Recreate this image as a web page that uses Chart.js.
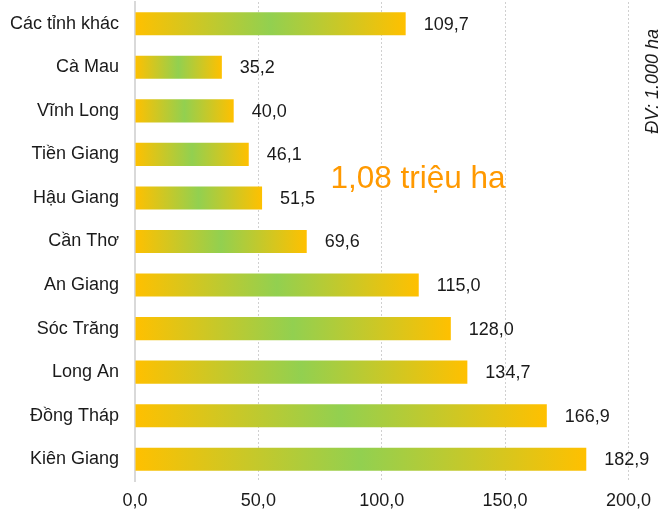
<!DOCTYPE html>
<html>
<head>
<meta charset="utf-8">
<script src="https://cdn.jsdelivr.net/npm/chart.js@4/dist/chart.umd.min.js"></script>
<style>
html,body{margin:0;padding:0;background:#fff;}
#wrap{width:660px;height:512px;position:relative;}
</style>
</head>
<body>
<div id="wrap"><canvas id="c" width="660" height="512"></canvas></div>
<script>
const categories = ["Các tỉnh khác","Cà Mau","Vĩnh Long","Tiền Giang","Hậu Giang","Cần Thơ","An Giang","Sóc Trăng","Long An","Đồng Tháp","Kiên Giang"];
const values = [109.7,35.2,40.0,46.1,51.5,69.6,115.0,128.0,134.7,166.9,182.9];
const xTicks = [0,50,100,150,200];
const totalNote = "1,08 triệu ha";
const unitNote = "ĐV: 1.000 ha";

const FONT = "'Liberation Sans', Arial, sans-serif";
const fmt = v => v.toFixed(1).replace('.', ',');

const barFill = (ctx) => {
  const chart = ctx.chart;
  if (!chart.chartArea || ctx.dataIndex === undefined) return '#FFC000';
  const x0 = chart.scales.x.getPixelForValue(0);
  const x1 = chart.scales.x.getPixelForValue(values[ctx.dataIndex]);
  const g = chart.ctx.createLinearGradient(x0, 0, x1, 0);
  g.addColorStop(0, '#FFC000');
  g.addColorStop(0.5, '#92D050');
  g.addColorStop(1, '#FFC000');
  return g;
};

const extras = {
  id: 'extras',
  afterDatasetsDraw(chart) {
    const c = chart.ctx;
    const meta = chart.getDatasetMeta(0);
    c.save();
    c.font = "18px " + FONT;
    c.fillStyle = '#1a1a1a';
    c.textBaseline = 'middle';
    c.textAlign = 'left';
    meta.data.forEach((bar, i) => {
      c.fillText(fmt(values[i]), bar.x + 18, bar.y + 1);
    });
    const y3 = chart.scales.y.getPixelForValue(3);
    const y4 = chart.scales.y.getPixelForValue(4);
    c.font = "31.5px " + FONT;
    c.fillStyle = '#FF9900';
    c.fillText(totalNote, chart.scales.x.getPixelForValue(80) - 2, (y3 + y4) / 2 + 3);
    c.translate(658, chart.scales.y.getPixelForValue(1) + 14);
    c.rotate(-Math.PI / 2);
    c.font = "italic 18px " + FONT;
    c.fillStyle = '#1a1a1a';
    c.textAlign = 'center';
    c.textBaseline = 'alphabetic';
    c.fillText(unitNote, 0, 0);
    c.restore();
  }
};

new Chart(document.getElementById('c'), {
  type: 'bar',
  data: {
    labels: categories,
    datasets: [{
      data: values,
      backgroundColor: barFill,
      borderWidth: 0,
      barPercentage: 0.53,
      categoryPercentage: 1.0
    }]
  },
  options: {
    indexAxis: 'y',
    responsive: false,
    animation: false,
    devicePixelRatio: 1,
    layout: { padding: { top: 2, right: 30, left: 0, bottom: 0 } },
    plugins: { legend: { display: false }, tooltip: { enabled: false } },
    scales: {
      x: {
        min: 0, max: 200,
        afterBuildTicks: s => { s.ticks = xTicks.map(v => ({ value: v })); },
        afterFit: s => { s.height = 31; },
        ticks: {
          callback: v => fmt(v),
          font: { family: FONT, size: 18 },
          color: '#1a1a1a',
          padding: 9,
          maxRotation: 0
        },
        grid: { color: '#d0d0d0', lineWidth: 1, drawTicks: false },
        border: { display: false, dash: [2, 2] }
      },
      y: {
        afterFit: s => { s.width = 135; s.paddingTop = 0; s.paddingBottom = 0; },
        ticks: {
          font: { family: FONT, size: 18 },
          color: '#1a1a1a',
          padding: 16
        },
        grid: { display: false, drawTicks: false },
        border: { display: true, color: '#d9d9d9', width: 2 }
      }
    }
  },
  plugins: [extras]
});
</script>
</body>
</html>
